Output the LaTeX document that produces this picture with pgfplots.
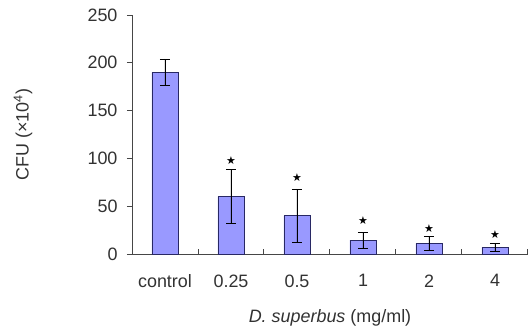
\documentclass[border=0pt]{standalone}
\usepackage{pgfplots}
\pgfplotsset{compat=1.18}
\usepackage{fontspec}
\setmainfont{Liberation Sans}
\newfontfamily\symfont{DejaVu Sans}
\definecolor{barfill}{RGB}{153,153,255}
\definecolor{baredge}{RGB}{40,40,100}
\definecolor{txt}{RGB}{50,50,50}
\definecolor{axl}{RGB}{70,70,70}
\begin{document}
\begin{tikzpicture}
\useasboundingbox (-132bp,-75bp) rectangle (397bp,254bp);
\begin{axis}[
  at={(0,0)}, anchor=south west,
  scale only axis, width=396bp, height=239bp,
  xmin=-0.5, xmax=5.5, ymin=0, ymax=250,
  axis lines*=left,
  axis line style={axl, line width=0.8pt},
  tick align=outside,
  major tick length=5bp,
  xtick={0.5,1.5,2.5,3.5,4.5,5.5},
  xticklabels={control,0.25,0.5,1,2,4},
  xtick style={draw=none},
  ytick style={axl, line width=0.8pt},
  x tick label style={xshift=-33bp, yshift=-12bp},
  ytick={0,50,100,150,200,250},
  font=\fontsize{18}{21}\selectfont\color{txt},
  /pgf/number format/assume math mode=true,
  yticklabel style={xshift=-6bp},
  ylabel={CFU (×10\textsuperscript{4})},
  xlabel={\textit{D. superbus} (mg/ml)},
  ylabel style={at={(axis description cs:-0.275,0.5)}, anchor=center},
  xlabel style={at={(axis description cs:0.5,0)}, anchor=center, yshift=-64bp},
  clip=false,
]
\addplot[ycomb, axl, line width=1pt, mark=none]
  coordinates {(0.5,5) (1.5,5) (2.5,5) (3.5,5) (4.5,5) (5.5,5)};
\addplot[ybar, bar width=26bp, fill=barfill, draw=baredge, line width=0.8pt,
  error bars/.cd, y dir=both, y explicit,
  error bar style={black, line width=0.8pt},
  error mark options={black, rotate=90, mark size=5bp, line width=0.8pt}]
  coordinates {
  (0,190) +- (0,14)
  (1,60) +- (0,28)
  (2,40) +- (0,28)
  (3,14.5) +- (0,8.5)
  (4,11) +- (0,7)
  (5,7) +- (0,4.5)
  };
\addplot[draw=none, mark=none,
  nodes near coords={\fontsize{11}{11}\selectfont\symfont\color{black}★},
  nodes near coords align={center}]
  coordinates {(1,97.5) (2,79.5) (3,35) (4,26.5) (5,20)};
\end{axis}
\end{tikzpicture}
\end{document}
